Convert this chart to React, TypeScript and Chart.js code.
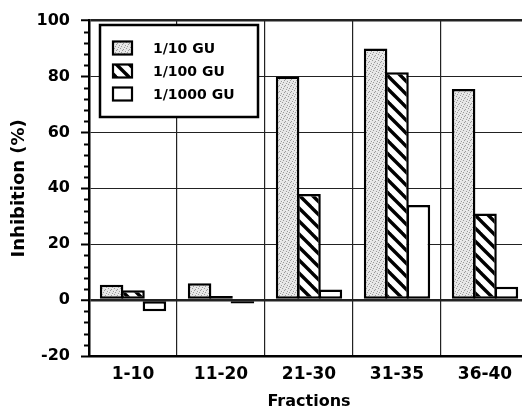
import React, { useEffect, useRef } from "react";
import { Chart, registerables } from "chart.js";

Chart.register(...registerables);

const categories = ["1-10", "11-20", "21-30", "31-35", "36-40"];
const seriesLabels = ["1/10 GU", "1/100 GU", "1/1000 GU"];
const gu10 = [5.5, 6, 80, 90, 75.5];
const gu100 = [3.5, 1.5, 38, 81.5, 31];
const gu1000 = [-4, -1.2, 3.8, 34, 4.8];
const yTicks = [-20, 0, 20, 40, 60, 80, 100];

const FONT = "'DejaVu Sans', 'Liberation Sans', Arial, sans-serif";

function makeStipple(): CanvasPattern | string {
  const c = document.createElement("canvas");
  c.width = 6;
  c.height = 6;
  const g = c.getContext("2d");
  if (!g) return "#d4d4d4";
  g.fillStyle = "#e6e6e6";
  g.fillRect(0, 0, 6, 6);
  g.fillStyle = "#9a9a9a";
  const dots = [
    [0, 0], [3, 1], [5, 3], [1, 4], [4, 5], [2, 2],
  ];
  dots.forEach(([x, y]) => g.fillRect(x, y, 1, 1));
  g.fillStyle = "#f6f6f6";
  g.fillRect(4, 0, 1, 1);
  g.fillRect(0, 3, 1, 1);
  return g.createPattern(c, "repeat") || "#d4d4d4";
}

function makeHatch(): CanvasPattern | string {
  const s = 13;
  const c = document.createElement("canvas");
  c.width = s;
  c.height = s;
  const g = c.getContext("2d");
  if (!g) return "#888";
  g.fillStyle = "#ffffff";
  g.fillRect(0, 0, s, s);
  g.strokeStyle = "#000000";
  g.lineWidth = 3.4;
  for (let k = -1; k <= 1; k++) {
    g.beginPath();
    g.moveTo(-2, k * s - 2);
    g.lineTo(s + 2, s + k * s + 2);
    g.stroke();
  }
  return g.createPattern(c, "repeat") || "#888";
}

export default function App() {
  const ref = useRef<HTMLCanvasElement | null>(null);

  useEffect(() => {
    if (!ref.current) return;
    const stipple = makeStipple();
    const hatch = makeHatch();
    const fills = [stipple, hatch, "#ffffff"];

    const minorTicks = {
      id: "minorTicks",
      afterDraw(chart: any) {
        const { ctx, chartArea } = chart;
        const y = chart.scales.y;
        ctx.save();
        ctx.strokeStyle = "#000";
        ctx.lineWidth = 2;
        for (let v = -20; v <= 100; v += 4) {
          if (v % 20 === 0) continue;
          const py = Math.round(y.getPixelForValue(v)) + 0.5;
          ctx.beginPath();
          ctx.moveTo(chartArea.left - 5, py);
          ctx.lineTo(chartArea.left, py);
          ctx.stroke();
        }
        ctx.restore();
      },
    };

    const boxLegend = {
      id: "boxLegend",
      afterDraw(chart: any) {
        const { ctx } = chart;
        ctx.save();
        ctx.fillStyle = "#fff";
        ctx.fillRect(100, 25, 158, 92);
        ctx.strokeStyle = "#000";
        ctx.lineWidth = 2.5;
        ctx.strokeRect(100, 25, 158, 92);
        const rows = [48, 71, 94];
        chart.data.datasets.forEach((ds: any, i: number) => {
          const cy = rows[i];
          ctx.fillStyle = ds.backgroundColor;
          ctx.fillRect(113, cy - 6.5, 19, 13);
          ctx.lineWidth = 2.2;
          ctx.strokeStyle = "#000";
          ctx.strokeRect(113, cy - 6.5, 19, 13);
          ctx.fillStyle = "#000";
          ctx.font = `bold 14px ${FONT}`;
          ctx.textBaseline = "middle";
          ctx.textAlign = "left";
          ctx.fillText(ds.label, 153, cy + 1);
        });
        ctx.restore();
      },
    };

    const series = [gu10, gu100, gu1000];
    const chart = new Chart(ref.current, {
      type: "bar",
      data: {
        labels: categories,
        datasets: series.map((vals, i) => ({
          label: seriesLabels[i],
          data: vals,
          backgroundColor: fills[i] as any,
          borderColor: "#000",
          borderWidth: 2.5,
          borderSkipped: false,
          barPercentage: 1.1,
          categoryPercentage: 0.73,
        })),
      },
      options: {
        animation: false,
        responsive: false,
        maintainAspectRatio: false,
        layout: { padding: { top: 15, left: 0, right: 2, bottom: 0 } },
        plugins: {
          legend: { display: false },
          tooltip: { enabled: false },
        },
        scales: {
          x: {
            afterFit(scale: any) {
              scale.height = 55;
            },
            grid: {
              color: "#222",
              lineWidth: 1.2,
              drawTicks: false,
              offset: true,
            },
            border: { color: "#000", width: 2.5 },
            ticks: {
              color: "#000",
              font: { family: FONT, size: 17, weight: "bold" },
              padding: 8,
            },
            title: {
              display: true,
              text: "Fractions",
              color: "#000",
              font: { family: FONT, size: 16, weight: "bold" },
              padding: 0,
            },
          },
          y: {
            min: -20,
            max: 100,
            afterFit(scale: any) {
              scale.width = 89;
            },
            afterBuildTicks(scale: any) {
              scale.ticks = yTicks.map((v) => ({ value: v }));
            },
            grid: {
              color: "#222",
              lineWidth: (c: any) =>
                c.tick && (c.tick.value === 0 || c.tick.value === 100) ? 2.5 : 1,
              tickLength: 8,
              tickWidth: 2,
              tickColor: "#000",
            },
            border: { color: "#000", width: 2.5 },
            ticks: {
              color: "#000",
              font: { family: FONT, size: 16, weight: "bold" },
              padding: 11,
            },
            title: {
              display: true,
              text: "Inhibition (%)",
              color: "#000",
              font: { family: FONT, size: 18, weight: "bold" },
              padding: { top: 9, bottom: 9 },
            },
          },
        },
      },
      plugins: [minorTicks, boxLegend],
    });
    return () => chart.destroy();
  }, []);

  return (
    <div
      style={{
        position: "absolute",
        left: 0,
        top: 0,
        width: 522,
        height: 411,
        overflow: "hidden",
        background: "#fff",
      }}
    >
      <canvas ref={ref} width={531} height={411} style={{ width: 531, height: 411, display: "block" }} />
    </div>
  );
}
